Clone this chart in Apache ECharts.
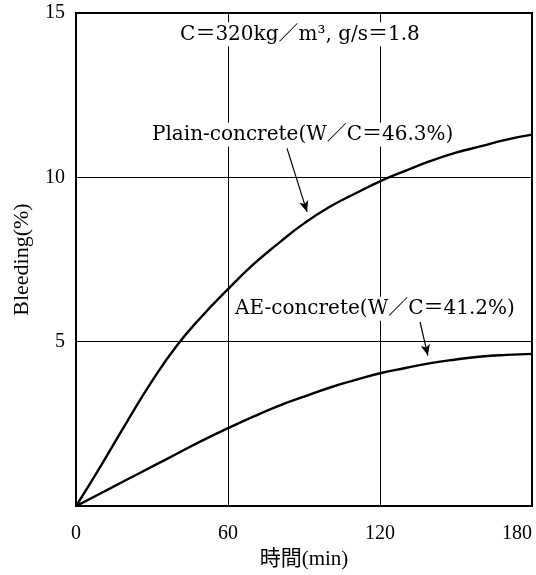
<!DOCTYPE html>
<html>
<head>
<meta charset="utf-8">
<script src="https://cdn.jsdelivr.net/npm/echarts@6/dist/echarts.min.js"></script>
<style>
  html, body { margin: 0; padding: 0; background: #fff; }
  #chart { width: 536px; height: 575px; }
</style>
</head>
<body>
<div id="chart"></div>
<script>
// Elapsed time (min) at which bleeding was read
const timeMin = [0, 10, 20, 30, 40, 50, 60, 70, 80, 90, 100, 110, 120, 130, 140, 150, 160, 170, 180];
// Bleeding (%) of plain concrete, W/C = 46.3 %
const plainConcrete = [0, 1.25, 2.55, 3.8, 4.9, 5.8, 6.6, 7.35, 8.0, 8.6, 9.1, 9.5, 9.88, 10.2, 10.5, 10.75, 10.95, 11.15, 11.3];
// Bleeding (%) of AE concrete, W/C = 41.2 %
const aeConcrete = [0, 0.4, 0.8, 1.2, 1.6, 2.0, 2.37, 2.72, 3.05, 3.33, 3.6, 3.83, 4.04, 4.2, 4.35, 4.46, 4.55, 4.6, 4.63];

const xTicks = [0, 60, 120, 180];
const yTicks = [5, 10, 15];

const conditionText = 'C＝320kg／m³, g/s＝1.8';
const plainLabel = 'Plain-concrete(W／C＝46.3%)';
const aeLabel = 'AE-concrete(W／C＝41.2%)';
const xName = '時間(min)';
const yName = 'Bleeding(%)';

// Annotation anchors in data space [min, %]
const layout = {
  condition: [40.3, 14.35],
  plainText: [29.2, 11.3],
  aeText: [62, 6.0],
  plainArrow: [[83.3, 10.88], [91.2, 8.95]],
  aeArrow: [[135.8, 5.6], [138.9, 4.58]]
};

const FONT = '"Liberation Serif", "Noto Sans CJK JP", serif';
const NOTE_FONT = '"DejaVu Serif", "Noto Sans CJK JP", serif';

const chart = echarts.init(document.getElementById('chart'), null, { renderer: 'canvas' });

const pairs = (ys) => timeMin.map((t, i) => [t, ys[i]]);

const curveStyle = { color: '#000', width: 2.4 };
const arrowLine = (pts) => ({
  silent: true,
  animation: false,
  symbol: ['none', 'arrow'],
  symbolSize: [7, 11],
  label: { show: false },
  lineStyle: { color: '#000', width: 1.2, type: 'solid' },
  data: [[{ coord: pts[0] }, { coord: pts[1] }]]
});

chart.setOption({
  animation: false,
  backgroundColor: '#fff',
  grid: {
    left: 76, right: 4, top: 13, bottom: 53,
    show: true, borderColor: '#000', borderWidth: 2, backgroundColor: '#fff'
  },
  xAxis: {
    type: 'value', min: 0, max: 180, interval: 60,
    name: xName, nameLocation: 'middle', nameGap: 24,
    nameTextStyle: { fontFamily: FONT, fontSize: 21, color: '#000' },
    axisLine: { show: true, lineStyle: { color: '#000', width: 2 } },
    axisTick: { show: false },
    axisLabel: {
      fontFamily: FONT, fontSize: 20, color: '#000', margin: 18,
      alignMaxLabel: 'right',
      formatter: (v) => (xTicks.includes(v) ? String(v) : '')
    },
    splitLine: { show: true, lineStyle: { color: '#000', width: 1 } }
  },
  yAxis: {
    type: 'value', min: 0, max: 15, interval: 5,
    name: yName, nameLocation: 'middle', nameGap: 43,
    nameTextStyle: { fontFamily: FONT, fontSize: 22, color: '#000' },
    axisLine: { show: true, lineStyle: { color: '#000', width: 2 } },
    axisTick: { show: false },
    axisLabel: {
      fontFamily: FONT, fontSize: 20, color: '#000', margin: 11,
      formatter: (v) => (yTicks.includes(v) ? String(v) : '')
    },
    splitLine: { show: true, lineStyle: { color: '#000', width: 1 } }
  },
  series: [
    {
      name: 'Plain-concrete', type: 'line', data: pairs(plainConcrete),
      smooth: true, showSymbol: false,
      lineStyle: curveStyle, z: 3,
      markLine: arrowLine(layout.plainArrow)
    },
    {
      name: 'AE-concrete', type: 'line', data: pairs(aeConcrete),
      smooth: true, showSymbol: false,
      lineStyle: curveStyle, z: 3,
      markLine: arrowLine(layout.aeArrow)
    }
  ]
});

// Text annotations placed from data-space anchors
const toPx = (p) => chart.convertToPixel({ gridIndex: 0 }, p);
const note = (text, at) => {
  const [x, y] = toPx(at);
  return {
    type: 'text', x, y, z: 10,
    style: {
      text, fill: '#000', font: '20px ' + NOTE_FONT,
      align: 'left', verticalAlign: 'middle',
      backgroundColor: '#fff', padding: [2, 2]
    }
  };
};
chart.setOption({
  graphic: [
    note(conditionText, layout.condition),
    note(plainLabel, layout.plainText),
    note(aeLabel, layout.aeText)
  ]
});
</script>
</body>
</html>
